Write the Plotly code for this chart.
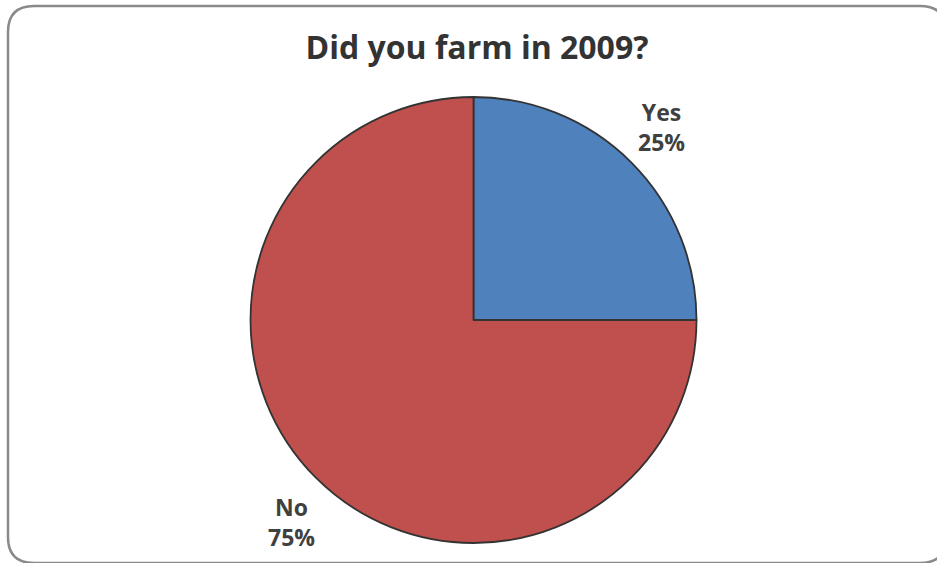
import plotly.graph_objects as go

W, H = 937, 563

# Survey answers
labels = ["Yes", "No"]
values = [25, 75]
colors = ["#4F81BD", "#C0504D"]

title_text = "Did you farm in 2009?"

total = sum(values)
pcts = [round(100 * v / total) for v in values]

FONT = "Open Sans, Lato, sans-serif"

fig = go.Figure(
    go.Pie(
        labels=labels,
        values=values,
        marker=dict(colors=colors, line=dict(color="#333333", width=1.8)),
        textinfo="none",
        hoverinfo="label+percent",
        sort=False,
        direction="clockwise",
        rotation=0,
        showlegend=False,
        domain=dict(x=[250 / W, 697 / W], y=[(H - 543) / H, (H - 97) / H]),
    )
)

# Outside category / percent labels
label_pos = {"Yes": (661, 127), "No": (291, 522)}
annotations = []
for lab, p in zip(labels, pcts):
    px, py = label_pos[lab]
    annotations.append(
        dict(
            x=px / W, y=1 - py / H, xref="paper", yref="paper",
            xanchor="center", yanchor="middle",
            text=f"<b>{lab}</b><br><b>{p}%</b>",
            showarrow=False,
            font=dict(family=FONT, size=23, color="#404040"),
            align="center",
        )
    )

# Rounded chart frame
def P(x, y):
    return f"{x / W:.5f},{1 - y / H:.5f}"

x0, y0, x1, y1, r = 8, 6, 946, 563, 26
path = (
    f"M {P(x0 + r, y0)} L {P(x1 - r, y0)} Q {P(x1, y0)} {P(x1, y0 + r)} "
    f"L {P(x1, y1 - r)} Q {P(x1, y1)} {P(x1 - r, y1)} "
    f"L {P(x0 + r, y1)} Q {P(x0, y1)} {P(x0, y1 - r)} "
    f"L {P(x0, y0 + r)} Q {P(x0, y0)} {P(x0 + r, y0)} Z"
)

fig.update_layout(
    width=W,
    height=H,
    margin=dict(l=0, r=0, t=0, b=0),
    paper_bgcolor="white",
    plot_bgcolor="white",
    title=dict(
        text=f"<b>{title_text}</b>",
        x=477 / W, xanchor="center",
        y=1 - 48 / H, yanchor="middle",
        font=dict(family=FONT, size=32, color="#333333"),
    ),
    annotations=annotations,
    shapes=[dict(type="path", path=path, xref="paper", yref="paper",
                 line=dict(color="#8a8a8a", width=2.5), layer="above")],
)

fig.write_html("out.html")
